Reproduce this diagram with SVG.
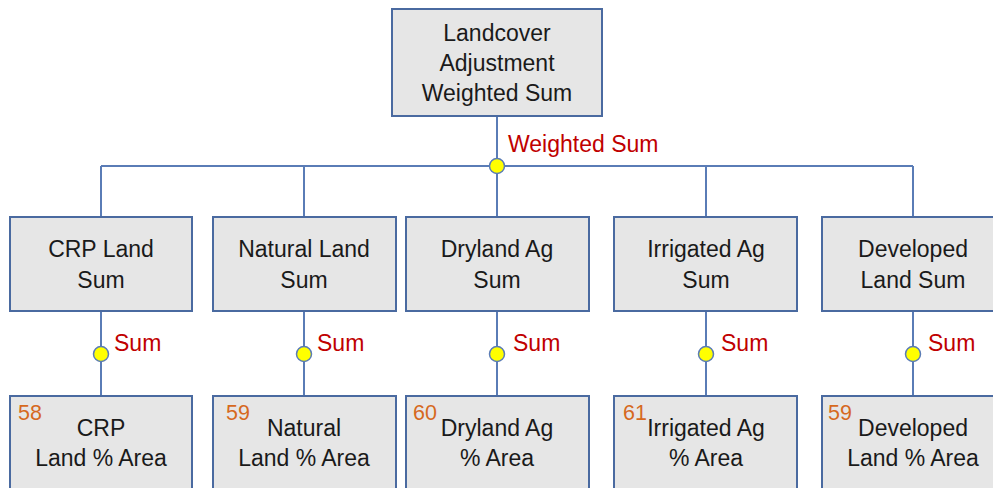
<svg xmlns="http://www.w3.org/2000/svg" width="993" height="488" viewBox="0 0 993 488">
  <style>
    .box { fill: #e6e6e6; stroke: #4a6aa0; stroke-width: 2; }
    .lbl { font-family: "Liberation Sans", Arial, sans-serif; font-size: 23px; fill: #1a1a1a; text-anchor: middle; }
    .op { font-family: "Liberation Sans", Arial, sans-serif; font-size: 23px; fill: #c00000; }
    .num { font-family: "Liberation Sans", Arial, sans-serif; font-size: 21.5px; fill: #d6691e; }
    .wire { stroke: #5a7cb6; stroke-width: 2; fill: none; }
    .dot { fill: #ffff00; stroke: #5a7cb6; stroke-width: 1.5; }
  </style>
  <rect width="993" height="488" fill="#ffffff"/>

  <!-- connectors -->
  <g id="connectors">
    <line class="wire" x1="497" y1="116" x2="497" y2="166"/>
    <line class="wire" x1="101" y1="166" x2="913" y2="166"/>
    <line class="wire" x1="101" y1="166" x2="101" y2="217"/>
    <line class="wire" x1="304" y1="166" x2="304" y2="217"/>
    <line class="wire" x1="497" y1="166" x2="497" y2="217"/>
    <line class="wire" x1="706" y1="166" x2="706" y2="217"/>
    <line class="wire" x1="913" y1="166" x2="913" y2="217"/>
    <line class="wire" x1="101" y1="311" x2="101" y2="396"/>
    <line class="wire" x1="304" y1="311" x2="304" y2="396"/>
    <line class="wire" x1="497" y1="311" x2="497" y2="396"/>
    <line class="wire" x1="706" y1="311" x2="706" y2="396"/>
    <line class="wire" x1="913" y1="311" x2="913" y2="396"/>
    <circle class="dot" cx="497" cy="166" r="7.5"/>
    <text class="op" x="508" y="152">Weighted Sum</text>
    <circle class="dot" cx="101" cy="354" r="7.5"/>
    <text class="op" x="114" y="351">Sum</text>
    <circle class="dot" cx="304" cy="354" r="7.5"/>
    <text class="op" x="317" y="351">Sum</text>
    <circle class="dot" cx="497" cy="354" r="7.5"/>
    <text class="op" x="513" y="351">Sum</text>
    <circle class="dot" cx="706" cy="354" r="7.5"/>
    <text class="op" x="721" y="351">Sum</text>
    <circle class="dot" cx="913" cy="354" r="7.5"/>
    <text class="op" x="928" y="351">Sum</text>
  </g>

  <!-- top node -->
  <g id="landcover-adjustment">
    <rect class="box" x="392" y="9" width="210" height="107"/>
    <text class="lbl" x="497" y="41">Landcover</text>
    <text class="lbl" x="497" y="71">Adjustment</text>
    <text class="lbl" x="497" y="101">Weighted Sum</text>
  </g>

  <!-- sum nodes -->
  <g id="crp-land-sum">
    <rect class="box" x="10" y="217" width="182" height="94"/>
    <text class="lbl" x="101" y="257">CRP Land</text>
    <text class="lbl" x="101" y="288">Sum</text>
  </g>
  <g id="natural-land-sum">
    <rect class="box" x="213" y="217" width="183" height="94"/>
    <text class="lbl" x="304" y="257">Natural Land</text>
    <text class="lbl" x="304" y="288">Sum</text>
  </g>
  <g id="dryland-ag-sum">
    <rect class="box" x="406" y="217" width="183" height="94"/>
    <text class="lbl" x="497" y="257">Dryland Ag</text>
    <text class="lbl" x="497" y="288">Sum</text>
  </g>
  <g id="irrigated-ag-sum">
    <rect class="box" x="614" y="217" width="183" height="94"/>
    <text class="lbl" x="706" y="257">Irrigated Ag</text>
    <text class="lbl" x="706" y="288">Sum</text>
  </g>
  <g id="developed-land-sum">
    <rect class="box" x="822" y="217" width="183" height="94"/>
    <text class="lbl" x="913" y="257">Developed</text>
    <text class="lbl" x="913" y="288">Land Sum</text>
  </g>

  <!-- area nodes -->
  <g id="crp-land-area">
    <rect class="box" x="10" y="396" width="182" height="100"/>
    <text class="num" x="18" y="420">58</text>
    <text class="lbl" x="101" y="436">CRP</text>
    <text class="lbl" x="101" y="466">Land % Area</text>
  </g>
  <g id="natural-land-area">
    <rect class="box" x="213" y="396" width="183" height="100"/>
    <text class="num" x="226" y="420">59</text>
    <text class="lbl" x="304" y="436">Natural</text>
    <text class="lbl" x="304" y="466">Land % Area</text>
  </g>
  <g id="dryland-ag-area">
    <rect class="box" x="406" y="396" width="183" height="100"/>
    <text class="num" x="413" y="420">60</text>
    <text class="lbl" x="497" y="436">Dryland Ag</text>
    <text class="lbl" x="497" y="466">% Area</text>
  </g>
  <g id="irrigated-ag-area">
    <rect class="box" x="614" y="396" width="183" height="100"/>
    <text class="num" x="623" y="420">61</text>
    <text class="lbl" x="706" y="436">Irrigated Ag</text>
    <text class="lbl" x="706" y="466">% Area</text>
  </g>
  <g id="developed-land-area">
    <rect class="box" x="822" y="396" width="183" height="100"/>
    <text class="num" x="828" y="420">59</text>
    <text class="lbl" x="913" y="436">Developed</text>
    <text class="lbl" x="913" y="466">Land % Area</text>
  </g>
</svg>
